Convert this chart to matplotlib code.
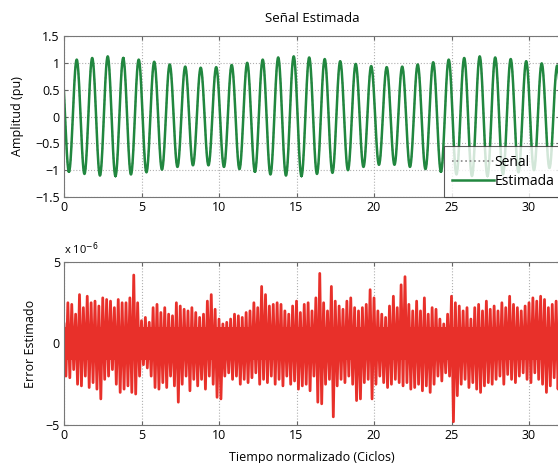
import numpy as np
import matplotlib
matplotlib.use("Agg")
import matplotlib.pyplot as plt

plt.rcParams['font.family'] = ['Open Sans', 'DejaVu Sans']

# --- data ---
# peak / trough values of the estimated signal, one per cycle
peak_t0 = -0.18
peaks = [1.03, 1.06, 1.09, 1.12, 1.09, 1.06, 1.02, 0.97, 0.93, 0.91, 0.92, 0.96,
         1.00, 1.06, 1.10, 1.12, 1.10, 1.07, 1.03, 0.98, 0.94, 0.92, 0.93, 0.97,
         1.01, 1.06, 1.09, 1.12, 1.10, 1.07, 1.03, 0.99, 0.95]
troughs = [-1.03, -1.07, -1.10, -1.11, -1.08, -1.04, -0.99, -0.94, -0.91, -0.91, -0.94,
           -0.98, -1.03, -1.08, -1.10, -1.11, -1.07, -1.05, -1.00, -0.94, -0.90, -0.90,
           -0.94, -0.98, -1.03, -1.08, -1.11, -1.11, -1.08, -1.04, -1.00, -0.96, -0.93]

# error envelope (x 1e-6), every 0.25 cycles from 0 to 32
err_step = 0.25
err_core = 1.0   # solid band around zero
err_upper = [1.2, 2.5, 2.4, 1.8,  3.0, 2.2, 2.9, 2.5,  2.6, 2.3, 2.8, 2.7,  2.6, 2.2, 2.7, 2.5,
             2.5, 2.8, 4.2, 2.5,  1.4, 1.6, 1.3, 2.2,  2.4, 1.9, 2.2, 1.8,  1.7, 2.5, 2.3, 2.1,
             2.0, 2.2, 1.9, 1.6,  1.8, 2.6, 3.0, 2.1,  1.5, 1.2, 1.3, 1.5,  1.8, 1.7, 1.6, 1.9,
             2.0, 2.5, 2.2, 3.5,  3.0, 2.3, 2.4, 2.5,  2.4, 2.0, 1.8, 2.3,  2.6, 1.9, 2.4, 2.5,
             2.0, 2.8, 4.3, 2.5,  2.0, 3.5, 2.6, 2.3,  2.1, 2.6, 2.8, 2.2,  2.0, 2.2, 2.4, 3.3,
             2.8, 2.0, 1.8, 1.6,  2.3, 2.9, 2.2, 3.6,  4.1, 2.4, 2.0, 2.6,  2.0, 2.8, 1.8, 2.2,
             2.1, 1.5, 1.2, 1.8,  2.9, 2.5, 2.3, 2.0,  2.2, 1.5, 2.2, 2.4,  2.0, 2.6, 2.1, 2.3,
             2.0, 2.5, 2.2, 2.9,  2.4, 2.2, 2.0, 2.3,  2.5, 2.8, 2.6, 2.9,  2.7, 2.2, 2.4, 2.6,
             2.3]
err_lower = [-2.0, -2.1, -1.6, -2.5,  -2.6, -2.0, -2.7, -2.4,  -2.8, -3.4, -2.2, -2.0,
             -1.6, -2.5, -3.0, -2.8,  -2.6, -3.0, -3.1, -2.0,  -1.3, -1.5, -2.0, -2.7,
             -2.8, -2.4, -2.7, -2.0,  -2.6, -3.6, -2.5, -2.0,  -2.9, -2.2, -2.6, -2.2,
             -2.8, -2.0, -2.5, -3.3,  -3.4, -2.0, -1.8, -2.2,  -2.0, -2.5, -2.2, -2.4,
             -2.1, -1.8, -2.5, -2.2,  -2.4, -2.0, -2.5, -2.2,  -2.6, -2.0, -2.5, -2.3,
             -2.8, -2.6, -2.5, -2.9,  -2.0, -3.6, -3.7, -2.5,  -2.2, -4.5, -2.6, -2.2,
             -2.4, -2.0, -2.5, -3.5,  -3.4, -2.4, -2.2, -3.4,  -2.5, -2.0, -2.4, -2.7,
             -2.5, -2.2, -2.4, -2.6,  -2.4, -2.8, -2.7, -2.5,  -2.9, -2.6, -3.0, -2.5,
             -2.0, -2.3, -1.8, -2.0,  -4.8, -3.2, -2.5, -2.2,  -2.7, -2.4, -2.8, -3.0,
             -2.6, -2.4, -2.5, -2.2,  -2.0, -2.5, -1.9, -2.2,  -2.4, -2.0, -1.8, -2.2,
             -2.4, -1.8, -2.2, -2.5,  -3.0, -2.6, -2.1, -2.8,  -2.3]

xticks = [0, 5, 10, 15, 20, 25, 30]

# --- build the curves from the read values ---
ext_v = []
for p, tr in zip(peaks, troughs):
    ext_v += [p, tr]
ext_t = peak_t0 + 0.5 * np.arange(len(ext_v))
t_sig, v_sig = [], []
for i in range(len(ext_v) - 1):
    tt = np.linspace(ext_t[i], ext_t[i + 1], 30)
    ph = np.pi * (tt - ext_t[i]) / (ext_t[i + 1] - ext_t[i])
    vv = (ext_v[i] + ext_v[i + 1]) / 2 + (ext_v[i] - ext_v[i + 1]) / 2 * np.cos(ph)
    t_sig.extend(tt)
    v_sig.extend(vv)

t_err, v_err = [], []
for i, (u, l) in enumerate(zip(err_upper, err_lower)):
    t_err += [i * err_step, i * err_step + err_step / 2]
    v_err += [u, l]

W, H = 558, 463
fig = plt.figure(figsize=(W / 100, H / 100), dpi=100)
ax1 = fig.add_axes([64 / W, 1 - 197 / H, 496 / W, 161 / H])
ax2 = fig.add_axes([64 / W, 1 - 425 / H, 496 / W, 163 / H])

green = '#21873f'
red = '#e8302a'

ax1.plot(t_sig, v_sig, color='#888888', ls=':', lw=1.2, label='Señal')
ax1.plot(t_sig, v_sig, color=green, lw=1.8, label='Estimada')
ax1.set_xlim(0, 32)
ax1.set_ylim(-1.5, 1.5)
ax1.set_yticks([-1.5, -1, -0.5, 0, 0.5, 1, 1.5])
ax1.set_yticklabels(['\u22121.5', '\u22121', '\u22120.5', '0', '0.5', '1', '1.5'])
ax1.set_title('Señal Estimada', fontsize=9.5, pad=10)
ax1.set_ylabel('Amplitud (pu)', fontsize=9, labelpad=8)
leg = ax1.legend(loc='lower left', bbox_to_anchor=(0.766, 0.0), borderaxespad=0,
                 fontsize=10, frameon=True, fancybox=False, handlelength=3.0,
                 borderpad=0.6, labelspacing=0.3, handletextpad=0.05)
leg.get_frame().set_edgecolor('#333333')
leg.get_frame().set_linewidth(0.8)

ax2.fill_between([0, 32], -err_core, err_core, color=red, lw=0)
ax2.plot(t_err, v_err, color=red, lw=2.0)
ax2.set_xlim(0, 32)
ax2.set_ylim(-5, 5)
ax2.set_yticks([-5, 0, 5])
ax2.set_yticklabels(['\u22125', '0', '5'])
ax2.set_ylabel('Error Estimado', fontsize=9, labelpad=6)
ax2.set_xlabel('Tiempo normalizado (Ciclos)', fontsize=9, labelpad=6)
ax2.text(0.0, 1.03, 'x 10$^{-6}$', transform=ax2.transAxes, fontsize=8,
         ha='left', va='bottom')

for ax in (ax1, ax2):
    ax.set_xticks(xticks)
    ax.grid(True, ls=':', color='#b0b0b0', lw=0.8)
    ax.set_axisbelow(True)
    ax.tick_params(direction='in', top=True, right=True, labelsize=9,
                   length=3, color='#666666', pad=3)
    for s in ax.spines.values():
        s.set_color('#777777')
        s.set_linewidth(0.8)

fig.savefig('out.png', dpi=100)
